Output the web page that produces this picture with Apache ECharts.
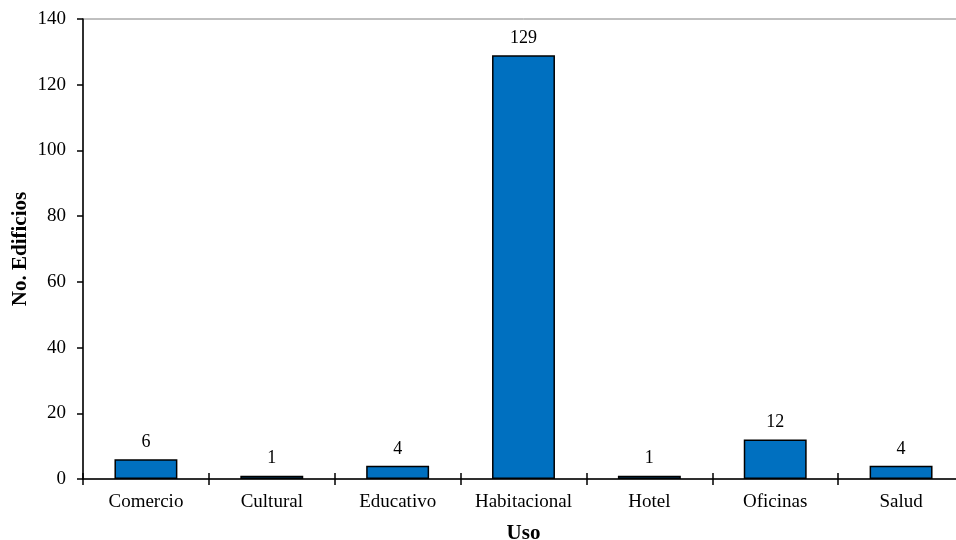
<!DOCTYPE html>
<html><head><meta charset="utf-8">
<script src="https://cdn.jsdelivr.net/npm/echarts@6/dist/echarts.min.js"></script>
<style>html,body{margin:0;padding:0;background:#fff;overflow:hidden}#c{width:964px;height:540px}</style>
</head><body><div id="c"></div>
<script>
const categories = ['Comercio','Cultural','Educativo','Habitacional','Hotel','Oficinas','Salud'];
const values = [6,1,4,129,1,12,4];
const yTicks = {min:0, max:140, interval:20};
const font = 'Liberation Serif, Times New Roman, serif';
const chart = echarts.init(document.getElementById('c'));
chart.setOption({
  animation:false,
  grid:{left:83, right:0, top:19, bottom:61, containLabel:false, outerBoundsMode:'none',
        show:true, borderColor:'#808080', borderWidth:1},
  xAxis:[{
    type:'category', data:categories, position:'bottom',
    name:'Uso', nameLocation:'middle', nameGap:44, nameMoveOverlap:false,
    nameTextStyle:{fontFamily:font, fontSize:21, fontWeight:'bold', color:'#000'},
    axisLine:{lineStyle:{color:'#000', width:1.5}},
    axisTick:{show:true, interval:0, length:6, lineStyle:{color:'#000', width:1.5}},
    axisLabel:{interval:0, hideOverlap:false, fontFamily:font, fontSize:19, color:'#000', margin:14}
  },{
    type:'category', data:categories, position:'bottom', gridIndex:0,
    axisLine:{show:false},
    axisTick:{show:true, interval:0, inside:true, length:6, lineStyle:{color:'#000', width:1.5}},
    axisLabel:{show:false}
  }],
  yAxis:{
    type:'value', min:yTicks.min, max:yTicks.max, interval:yTicks.interval,
    name:'No. Edificios', nameLocation:'middle', nameGap:52, nameMoveOverlap:false,
    nameTextStyle:{fontFamily:font, fontSize:21, fontWeight:'bold', color:'#000'},
    axisLine:{show:true, lineStyle:{color:'#000', width:1.5}},
    axisTick:{show:true, length:6, lineStyle:{color:'#000', width:1.5}},
    axisLabel:{fontFamily:font, fontSize:19, color:'#000', margin:17},
    splitLine:{show:false}
  },
  series:[{
    type:'bar', data:values, barWidth:'50%', xAxisIndex:0,
    itemStyle:{color:'#0070C0', borderColor:'#000', borderWidth:1.5},
    label:{show:true, position:'top', distance:8, fontFamily:font, fontSize:18, color:'#000'}
  }]
});
</script></body></html>
